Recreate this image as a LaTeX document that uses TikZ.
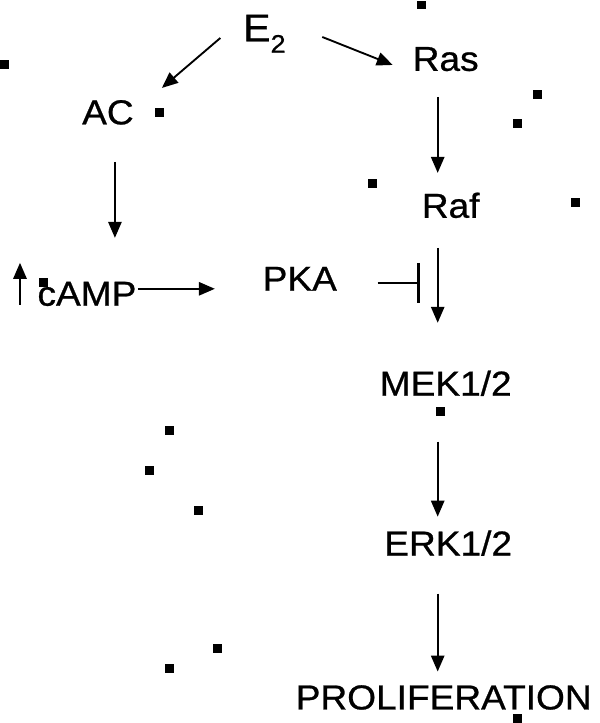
\documentclass[tikz,border=0pt]{standalone}
\usepackage{fontspec}
\setmainfont{Liberation Sans}[FakeStretch=1.07,FakeBold=0.7]
\usetikzlibrary{arrows.meta}
\definecolor{sigInk}{HTML}{000000}
\tikzset{
  sig label/.style={font=\fontsize{26}{28}\selectfont, text=sigInk, inner sep=0pt, text height=18.6pt, text depth=0pt},
  sig arrow/.style={draw=sigInk, line width=1.4pt, -{Triangle[length=12pt,width=10pt]}},
  sig block/.style={draw=sigInk, line width=1.4pt, -{Bar[width=30pt,line width=2.4pt]}},
  sig speck/.style={fill=sigInk},
}
\begin{document}
\begin{tikzpicture}[x=.75pt,y=-.75pt]
  \fill[white] (0,0) rectangle (600,723);
  \node[sig label, font=\fontsize{29}{31}\selectfont, text height=20.8pt] (e2) at (264.5,27.5) {E\raisebox{-8.5pt}{\fontsize{19}{19}\selectfont 2}};
  \node[sig label] (ras) at (446,58.5) {Ras};
  \node[sig label] (ac) at (108,112) {AC};
  \node[sig label] (raf) at (451,205.5) {Raf};
  \node[sig label] (camp) at (87,293.5) {cAMP};
  \node[sig label] (pka) at (300,278.5) {PKA};
  \node[sig label] (mek) at (446,383.5) {MEK1/2};
  \node[sig label] (erk) at (448.5,543.5) {ERK1/2};
  \node[sig label] (prolif) at (444,697.5) {PROLIFERATION};
  % E2 branches
  \draw[sig arrow] ([shift={(-44,10.5)}]e2.center) -- ([shift={(54,-24)}]ac.center);
  \draw[sig arrow] ([shift={(58,9.5)}]e2.center) -- ([shift={(-53,6.5)}]ras.center);
  % cAMP arm
  \draw[sig arrow] ([shift={(7,50)}]ac.center) -- ([shift={(28,-55.5)}]camp.center);
  \draw[sig arrow] ([shift={(-67,11.5)}]camp.center) -- ++(0,-42);
  \draw[sig arrow] ([shift={(51,-4.5)}]camp.center) -- ([shift={(-85,10.5)}]pka.center);
  \draw[sig block] ([shift={(78,4.5)}]pka.center) -- ++(42,0);
  % MAPK column
  \draw[sig arrow] ([shift={(-8,38.5)}]ras.center) -- ([shift={(-13,-32.5)}]raf.center);
  \draw[sig arrow] ([shift={(-13,42.5)}]raf.center) -- ([shift={(-8,-60.5)}]mek.center);
  \draw[sig arrow] ([shift={(-8,58.5)}]mek.center) -- ([shift={(-10.5,-26.5)}]erk.center);
  \draw[sig arrow] ([shift={(-10.5,50.5)}]erk.center) -- ([shift={(-6,-25.5)}]prolif.center);
  % specks
  \foreach \sx/\sy in {422/5,5/65,160/113,538/95,518/124,373/184,576/203,44/283,441/412,170/431,150/471,199/511,218/649,170/669,518/719}{\fill[sig speck] (\sx-4.5,\sy-4.5) rectangle (\sx+4.5,\sy+4.5);}
\end{tikzpicture}
\end{document}
